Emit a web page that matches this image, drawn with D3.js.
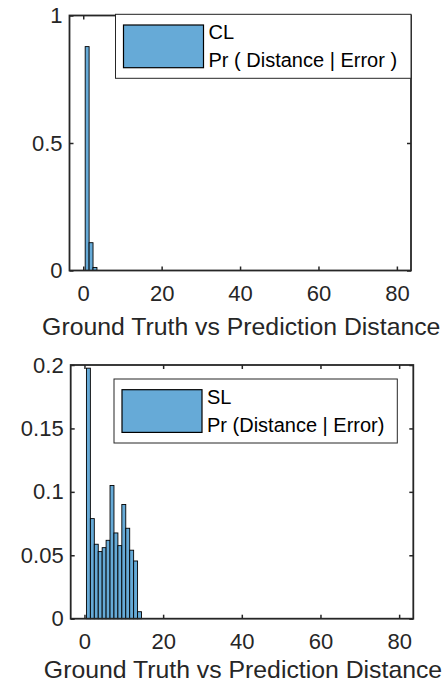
<!DOCTYPE html>
<html>
<head>
<meta charset="utf-8">
<script src="https://cdn.jsdelivr.net/npm/d3@7"></script>
<style>
  body { margin: 0; background: #fff; }
  text { font-family: "Liberation Sans", Arial, sans-serif; fill: #262626; }
</style>
</head>
<body>
<div id="svgContainer"></div>
<script>
// histogram bins are 1 unit wide, listed by their centre
const clBins = [1, 2, 3]
const clProb = [0.878, 0.109, 0.012]
const slBins = [1, 2, 3, 4, 5, 6, 7, 8, 9, 10, 11, 12, 13, 14]
const slProb = [0.1975, 0.0789, 0.0587, 0.0529, 0.056, 0.0618, 0.105, 0.0676, 0.0576, 0.09, 0.0713, 0.054, 0.0455, 0.0055]

const xTicks = [0, 20, 40, 60, 80]
const xDomain = [-3.5, 83.6]
const clTicks = [0, 0.5, 1]
const slTicks = [0, 0.05, 0.1, 0.15, 0.2]
const clLegend = ['CL', 'Pr ( Distance | Error )']
const slLegend = ['SL', 'Pr (Distance | Error)']
const xLabel = 'Ground Truth vs Prediction Distance'

const width = 443,
  height = 684
const barColor = 'rgb(102, 170, 215)'
const axisColor = '#262626'

const svg = d3.select('#svgContainer')
              .append('svg')
              .attr('width', width)
              .attr('height', height)

function drawPanel(p) {
  const x = d3.scaleLinear()
              .domain(xDomain)
              .range([p.left, p.right])
  const y = d3.scaleLinear()
              .domain([0, p.yMax])
              .range([p.bottom, p.top])

  const g = svg.append('g')

  g.selectAll('rect.bar')
   .data(p.bins)
   .enter()
   .append('rect')
   .attr('class', 'bar')
   .attr('x', (d) => x(d - 0.5))
   .attr('width', (d) => x(d + 0.5) - x(d - 0.5))
   .attr('y', (d, i) => y(p.prob[i]))
   .attr('height', (d, i) => y(0) - y(p.prob[i]))
   .style('fill', barColor)
   .style('stroke', '#000')
   .style('stroke-width', 0.9)

  const xb = g.append('g')
              .attr('transform', 'translate(0,' + p.bottom + ')')
              .call(d3.axisBottom(x).tickValues(xTicks).tickSize(-4).tickSizeOuter(0).tickPadding(15))
  const xt = g.append('g')
              .attr('transform', 'translate(0,' + p.top + ')')
              .call(d3.axisTop(x).tickValues(xTicks).tickSize(-4).tickSizeOuter(0).tickFormat(''))
  const yl = g.append('g')
              .attr('transform', 'translate(' + p.left + ',0)')
              .call(d3.axisLeft(y).tickValues(p.yTicks).tickSize(-4).tickSizeOuter(0).tickPadding(7).tickFormat((d) => String(d)))
  const yr = g.append('g')
              .attr('transform', 'translate(' + p.right + ',0)')
              .call(d3.axisRight(y).tickValues(p.yTicks).tickSize(-4).tickSizeOuter(0).tickFormat(''))

  ;[xb, xt, yl, yr].forEach((a) => {
    a.select('.domain').remove()
    a.selectAll('line').attr('stroke', axisColor).attr('stroke-width', 1.5)
    a.selectAll('text').attr('font-size', '22px').attr('font-family', null).attr('fill', axisColor)
  })

  g.append('rect')
   .attr('x', p.left)
   .attr('y', p.top)
   .attr('width', p.right - p.left)
   .attr('height', p.bottom - p.top)
   .style('fill', 'none')
   .style('stroke', axisColor)
   .style('stroke-width', 1.8)

  g.append('text')
   .text(xLabel)
   .attr('x', (p.left + p.right) / 2 + 1)
   .attr('y', p.bottom + p.labelGap)
   .attr('text-anchor', 'middle')
   .attr('font-size', '24.8px')

  const legend = g.append('g')
                  .attr('class', 'legend')

  legend.append('rect')
        .attr('x', p.legX)
        .attr('y', p.legY)
        .attr('width', p.legW)
        .attr('height', 64)
        .style('fill', '#fff')
        .style('stroke', axisColor)
        .style('stroke-width', 1)

  legend.append('rect')
        .attr('x', p.legX + 8)
        .attr('y', p.legY + 10.7)
        .attr('width', 80)
        .attr('height', 42.7)
        .style('fill', barColor)
        .style('stroke', '#000')
        .style('stroke-width', 1.2)

  legend.selectAll('text.leg')
        .data(p.legend)
        .enter()
        .append('text')
        .attr('class', 'leg')
        .text((d) => d)
        .attr('x', p.legX + 93)
        .attr('y', (d, i) => p.legY + (i === 0 ? 25 : 53))
        .attr('font-size', '20px')
        .style('fill', '#000')
}

drawPanel({
  bins: clBins, prob: clProb, yMax: 1, yTicks: clTicks, legend: clLegend,
  left: 69.5, right: 411, top: 15.5, bottom: 270.5, labelGap: 64,
  legX: 115.5, legY: 14.3, legW: 295.5
})

drawPanel({
  bins: slBins, prob: slProb, yMax: 0.2, yTicks: slTicks, legend: slLegend,
  left: 70.7, right: 413.3, top: 365, bottom: 618.7, labelGap: 59,
  legX: 114, legY: 379, legW: 283.3
})
</script>
</body>
</html>
